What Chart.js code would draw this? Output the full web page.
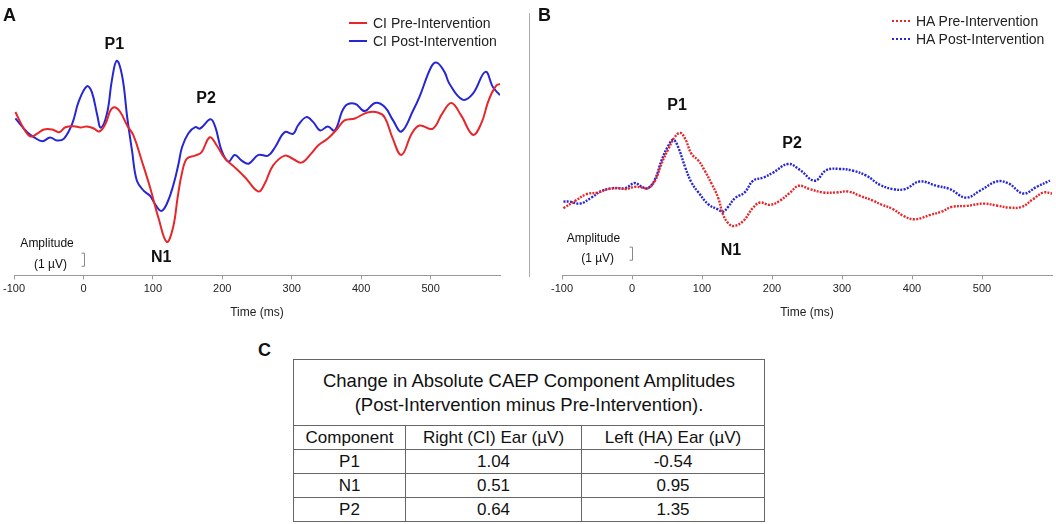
<!DOCTYPE html>
<html lang="en">
<head>
  <meta charset="UTF-8" />
  <title>CAEP waveforms</title>
  <script src="https://cdn.jsdelivr.net/npm/chart.js"></script>
  <style>
    body {
      margin: 0;
      background: white;
      font-family: 'Liberation Sans', Arial, sans-serif;
      color: #111;
    }
    #page {
      position: relative;
      width: 1056px;
      height: 524px;
      overflow: hidden;
    }
    canvas { position: absolute; top: 0; }
    .letter {
      position: absolute;
      font-weight: bold;
      font-size: 18px;
      line-height: 18px;
    }
    .sep {
      position: absolute;
      left: 529px;
      top: 13px;
      height: 264px;
      border-left: 1px solid #aaa;
    }
    .leg {
      position: absolute;
      font-size: 14px;
      line-height: 18px;
      color: #222;
      white-space: nowrap;
    }
    .leg span.swatch {
      display: inline-block;
      width: 18px;
      height: 0;
      vertical-align: middle;
      margin-right: 6px;
      margin-top: -2px;
    }
    table {
      position: absolute;
      left: 293px;
      top: 359px;
      width: 471px;
      border-collapse: collapse;
      border: 1.5px solid #555;
      font-size: 17px;
      table-layout: fixed;
    }
    td, th {
      border: 1px solid #666;
      text-align: center;
      padding: 0;
      height: 23px;
      line-height: 20px;
      font-weight: normal;
    }
    th.title {
      height: 65px;
      font-size: 18.5px;
      line-height: 24px;
    }
  </style>
</head>
<body>
<div id="page">
  <canvas id="chartA" width="527" height="330" style="left:0"></canvas>
  <canvas id="chartB" width="526" height="330" style="left:530px"></canvas>
  <div class="sep"></div>
  <div class="letter" style="left:3px;top:6px">A</div>
  <div class="letter" style="left:538px;top:6px">B</div>
  <div class="letter" style="left:258px;top:341px">C</div>
  <div id="legA" class="leg" style="left:349px;top:14px"></div>
  <div id="legB" class="leg" style="left:892px;top:12px"></div>
  <table id="tbl"></table>
</div>
<script>
// time (ms) and amplitude (µV)
const ciPreTime = [-98,-86,-76,-66,-57,-45,-35,-26,-14,-4,5,15,23,32,39,45,53,63,72,84,96,108,120,129,136,142,149,161,170,182,192,204,218,233,252,261,273,290,302,314,328,338,352,366,376,391,409,424,434,445,458,473,484,503,517,530,544,561,573,582,588,595,600];
const ciPreAmp = [1.41,0.15,-0.46,-0.23,0.08,0.08,-0.13,0.25,0.33,0.23,0.31,0.15,-0.08,0.54,1.54,1.77,1.41,0.38,-0.38,-2.31,-4.36,-6.67,-8.52,-7.44,-5.0,-3.23,-2.15,-1.92,-1.67,-0.52,-1.15,-2.15,-2.82,-3.59,-4.67,-4.08,-2.69,-1.92,-2.18,-2.46,-1.77,-1.15,-0.62,0.15,0.77,0.92,1.38,1.38,1.0,-0.54,-1.87,-0.23,0.38,0.13,1.31,2.1,1.15,-0.33,0.54,2.05,2.85,3.45,3.55];

const ciPostTime = [-98,-81,-71,-59,-48,-38,-28,-16,-7,5,12,20,25,34,41,48,56,63,70,77,87,96,103,112,120,130,137,142,151,161,168,183,190,199,209,218,228,238,252,266,276,290,302,309,321,331,341,352,362,376,391,405,420,434,446,458,475,484,501,509,520,527,546,561,579,590,600];
const ciPostAmp = [0.92,-0.13,-0.52,-0.82,-0.54,-0.77,-0.62,0.54,2.18,3.38,2.95,1.15,0.21,1.31,3.85,5.33,4.1,1.02,-1.54,-3.85,-4.62,-5.0,-5.62,-6.15,-5.62,-4.08,-2.54,-1.28,-0.23,0.25,0.15,0.85,0.25,-1.54,-2.38,-1.87,-2.31,-2.54,-1.87,-1.92,-1.28,-0.13,-0.25,0.38,1.02,0.64,0.0,0.31,0.0,1.79,2.05,1.48,2.1,1.79,0.77,-0.08,1.54,2.56,4.87,5.19,4.48,3.59,2.36,2.82,4.48,3.3,2.7];

const haPreTime = [-98,-81,-65,-48,-34,-20,-8,4,14,23,33,42,52,61,69,76,85,95,104,114,123,130,137,145,159,173,183,197,211,226,238,254,273,292,309,326,345,356,373,388,404,426,442,457,478,502,521,540,557,573,588,600];
const haPreAmp = [-1.48,-0.92,-0.41,-0.28,-0.02,0.05,-0.02,0.15,0.1,0.05,0.62,1.9,3.05,3.95,4.28,3.82,2.67,2.15,1.38,0.36,-0.67,-1.95,-2.6,-2.85,-2.46,-1.44,-1.05,-1.23,-0.92,-0.28,0.23,-0.02,-0.28,-0.28,-0.21,-0.54,-0.92,-1.2,-1.56,-2.08,-2.33,-2.0,-1.75,-1.38,-1.31,-1.13,-1.28,-1.44,-1.38,-0.79,-0.28,-0.36];

const haPostTime = [-98,-89,-74,-58,-43,-27,-10,4,14,23,33,42,52,59,66,76,85,95,109,122,130,137,147,161,173,188,202,223,240,261,278,297,316,335,354,373,390,411,435,454,477,497,521,538,559,578,597];
const haPostAmp = [-0.98,-0.98,-1.13,-0.67,-0.15,0.05,0.05,0.44,0.15,0.05,0.75,2.15,3.31,3.75,3.18,1.64,0.48,-0.28,-1.18,-1.55,-1.75,-1.4,-0.72,-0.28,0.62,0.87,1.25,1.9,1.44,0.62,1.44,1.52,1.38,1.0,0.31,-0.02,-0.02,0.56,0.23,-0.02,-0.67,-0.15,0.56,0.41,-0.36,0.15,0.62];

const seriesNamesA = ['CI Pre-Intervention', 'CI Post-Intervention'];
const seriesNamesB = ['HA Pre-Intervention', 'HA Post-Intervention'];

// table C
const tableTitle = ['Change in Absolute CAEP Component Amplitudes', '(Post-Intervention minus Pre-Intervention).'];
const tableHead = ['Component', 'Right (CI) Ear (µV)', 'Left (HA) Ear (µV)'];
const components = ['P1', 'N1', 'P2'];
const rightCI = ['1.04', '0.51', '0.64'];
const leftHA = ['-0.54', '0.95', '1.35'];

const RED = '#e8262a';
const BLUE = '#2626d6';

Chart.defaults.font.family = "'Liberation Sans', Arial, sans-serif";

function points(times, amps) {
  return times.map((t, i) => ({ x: t, y: amps[i] }));
}

// peak labels, amplitude note and the 1 µV scale bar, placed in data units
function annotPlugin(labels, bar) {
  return {
    id: 'annot',
    afterDraw(chart) {
      const { ctx, scales: { x, y } } = chart;
      ctx.save();
      ctx.fillStyle = '#111';
      ctx.textAlign = 'center';
      ctx.textBaseline = 'middle';
      labels.forEach(l => {
        ctx.font = l.font;
        ctx.fillText(l.text, x.getPixelForValue(l.t), y.getPixelForValue(l.v));
      });
      const bx = Math.round(x.getPixelForValue(bar.t)) + 0.5;
      const y0 = y.getPixelForValue(bar.v);
      const y1 = y.getPixelForValue(bar.v + 1);
      ctx.strokeStyle = '#888';
      ctx.lineWidth = 1;
      ctx.beginPath();
      ctx.moveTo(bx - 3, y1);
      ctx.lineTo(bx, y1);
      ctx.lineTo(bx, y0);
      ctx.lineTo(bx - 3, y0);
      ctx.stroke();
      ctx.restore();
    }
  };
}

function makeChart(id, names, pre, post, dashed, yMin, yMax, padLeft, padRight, labels, bar) {
  const style = dashed
    ? { borderWidth: 2.4, borderDash: [2, 1.3] }
    : { borderWidth: 2 };
  return new Chart(document.getElementById(id), {
    type: 'line',
    data: {
      datasets: [
        Object.assign({ label: names[0], data: pre, borderColor: RED }, style),
        Object.assign({ label: names[1], data: post, borderColor: BLUE }, style)
      ]
    },
    options: {
      responsive: false,
      animation: false,
      events: [],
      elements: { point: { radius: 0 }, line: { tension: 0.4 } },
      layout: { padding: { left: padLeft, right: padRight, top: 55, bottom: 10 } },
      plugins: { legend: { display: false }, tooltip: { enabled: false } },
      scales: {
        x: {
          type: 'linear',
          min: -100,
          max: 600,
          afterBuildTicks: s => { s.ticks = s.ticks.filter(t => t.value <= 500); },
          ticks: { stepSize: 100, color: '#222', font: { size: 11 }, padding: 3, maxRotation: 0 },
          grid: { drawOnChartArea: false, drawTicks: true, tickLength: 4, color: '#999' },
          border: { display: true, color: '#999', width: 1 },
          title: { display: true, text: 'Time (ms)', color: '#222', font: { size: 12 }, padding: { top: 7, bottom: 0 } }
        },
        y: { display: false, min: yMin, max: yMax }
      }
    },
    plugins: [annotPlugin(labels, bar)]
  });
}

const bold = 'bold 16px "Liberation Sans", Arial, sans-serif';
const small = '12px "Liberation Sans", Arial, sans-serif';

const chartA = makeChart('chartA', seriesNamesA,
  points(ciPreTime, ciPreAmp), points(ciPostTime, ciPostAmp), false,
  -11.08, 5.77, 13, 27,
  [
    { text: 'P1', t: 44.5, v: 6.54, font: bold },
    { text: 'P2', t: 176.7, v: 2.46, font: bold },
    { text: 'N1', t: 112, v: -9.69, font: bold },
    { text: 'Amplitude', t: -52.4, v: -8.62, font: small },
    { text: '(1 µV)', t: -47.4, v: -10.23, font: small }
  ],
  { t: 1, v: -10.38 });

const chartB = makeChart('chartB', seriesNamesB,
  points(haPreTime, haPreAmp), points(haPostTime, haPostAmp), true,
  -6.62, 10.23, 32, 4,
  [
    { text: 'P1', t: 64.3, v: 6.38, font: bold },
    { text: 'P2', t: 228.6, v: 3.46, font: bold },
    { text: 'N1', t: 141.4, v: -4.69, font: bold },
    { text: 'Amplitude', t: -55, v: -3.85, font: small },
    { text: '(1 µV)', t: -49.1, v: -5.38, font: small }
  ],
  { t: 0, v: -5.46 });

function buildLegend(id, chart, dashed) {
  const box = document.getElementById(id);
  chart.data.datasets.forEach(ds => {
    const row = document.createElement('div');
    const sw = document.createElement('span');
    sw.className = 'swatch';
    sw.style.borderTop = (dashed ? '2.5px dotted ' : '2px solid ') + ds.borderColor;
    row.appendChild(sw);
    row.appendChild(document.createTextNode(ds.label));
    box.appendChild(row);
  });
}
buildLegend('legA', chartA, false);
buildLegend('legB', chartB, true);

// table
const tbl = document.getElementById('tbl');
let html = '<colgroup><col style="width:112px"><col style="width:176px"><col style="width:183px"></colgroup>';
html += '<tr><th class="title" colspan="3">' + tableTitle.join('<br>') + '</th></tr>';
html += '<tr>' + tableHead.map(h => '<td>' + h + '</td>').join('') + '</tr>';
components.forEach((c, i) => {
  html += '<tr><td>' + c + '</td><td>' + rightCI[i] + '</td><td>' + leftHA[i] + '</td></tr>';
});
tbl.innerHTML = html;
</script>
</body>
</html>
